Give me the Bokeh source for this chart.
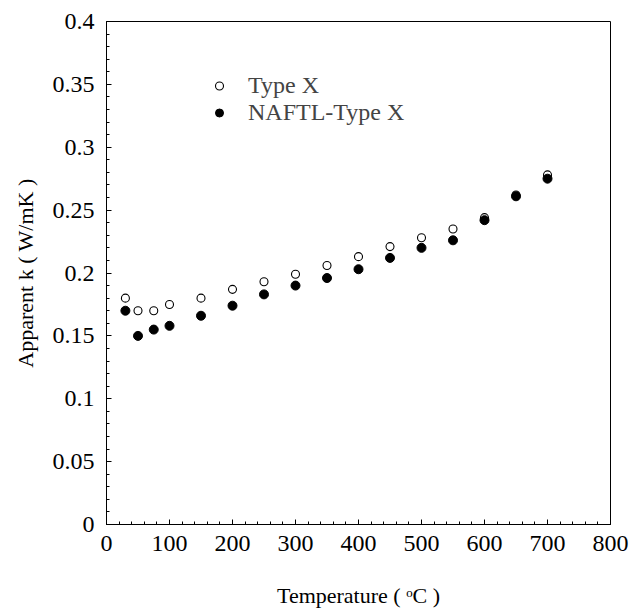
from bokeh.plotting import figure
from bokeh.models import Range1d, FixedTicker, Legend, LegendItem, CustomJSTickFormatter
from bokeh.embed import file_html
from bokeh.resources import INLINE

# ---- data ----
temperature = [30, 50, 75, 100, 150, 200, 250, 300, 350, 400, 450, 500, 550, 600, 650, 700]
k_type_x = [0.180, 0.170, 0.170, 0.175, 0.180, 0.187, 0.193, 0.199, 0.206, 0.213,
            0.221, 0.228, 0.235, 0.244, 0.262, 0.278]
k_naftl_type_x = [0.170, 0.150, 0.155, 0.158, 0.166, 0.174, 0.183, 0.190, 0.196, 0.203,
                  0.212, 0.220, 0.226, 0.242, 0.261, 0.275]

x_ticks = [0, 100, 200, 300, 400, 500, 600, 700, 800]
x_tick_labels = ["0", "100", "200", "300", "400", "500", "600", "700", "800"]
y_ticks = [0, 0.05, 0.1, 0.15, 0.2, 0.25, 0.3, 0.35, 0.4]
y_tick_labels = ["0", "0.05", "0.1", "0.15", "0.2", "0.25", "0.3", "0.35", "0.4"]

series_names = ["Type X", "NAFTL-Type X"]
x_title = "Temperature ( \u1d52C )"
y_title = "Apparent k ( W/mK )"

FONT = "Liberation Serif"
TICK_FONT = "Liberation Serif, serif"

LABEL_JS = """
const i = tick_vals.findIndex(t => Math.abs(t - tick) < 1e-9);
return i >= 0 ? tick_labels[i] : '';
"""

p = figure(width=630, height=613, output_backend="svg", toolbar_location=None,
           x_range=Range1d(0, 800), y_range=Range1d(0, 0.4),
           min_border_left=106, min_border_right=20, min_border_top=21, min_border_bottom=89)
p.background_fill_color = "white"
p.border_fill_color = "white"
p.outline_line_color = "black"
p.outline_line_width = 1
p.xgrid.visible = False
p.ygrid.visible = False

p.xaxis.ticker = FixedTicker(ticks=x_ticks, minor_ticks=[i * 20 for i in range(41)])
p.yaxis.ticker = FixedTicker(ticks=y_ticks, minor_ticks=[i * 0.01 for i in range(41)])
p.xaxis.formatter = CustomJSTickFormatter(args=dict(tick_vals=x_ticks, tick_labels=x_tick_labels), code=LABEL_JS)
p.yaxis.formatter = CustomJSTickFormatter(args=dict(tick_vals=y_ticks, tick_labels=y_tick_labels), code=LABEL_JS)

p.axis.axis_line_color = "black"
p.axis.major_tick_line_color = "black"
p.axis.minor_tick_line_color = "black"
p.axis.major_tick_in = 5
p.axis.major_tick_out = 0
p.axis.minor_tick_in = 3
p.axis.minor_tick_out = 0
p.axis.major_label_text_font = TICK_FONT
p.axis.major_label_text_font_size = "24px"
p.axis.major_label_text_font_style = "normal"
p.axis.major_label_text_color = "black"
p.axis.axis_label_text_font = FONT
p.axis.axis_label_text_font_size = "22px"
p.axis.axis_label_text_font_style = "normal"
p.axis.axis_label_text_color = "black"

p.xaxis.axis_label = x_title
p.yaxis.axis_label = y_title
p.xaxis.major_label_standoff = 11
p.yaxis.major_label_standoff = 12
p.xaxis.axis_label_standoff = 29
p.yaxis.axis_label_standoff = 12

r_open = p.scatter(temperature, k_type_x, marker="circle", size=8,
                   fill_color="white", line_color="black", line_width=1.1)
r_fill = p.scatter(temperature, k_naftl_type_x, marker="circle", size=9,
                   fill_color="black", line_color="black", line_width=1)

legend = Legend(items=[LegendItem(label=series_names[0], renderers=[r_open]),
                       LegendItem(label=series_names[1], renderers=[r_fill])],
                location=(103, 398), padding=0, margin=0, spacing=0,
                glyph_width=20, glyph_height=25, label_height=25, label_standoff=19,
                label_text_font=FONT, label_text_font_size="24px",
                border_line_color=None, background_fill_alpha=0)
p.add_layout(legend, "center")

open("out.html", "w").write(file_html(p, INLINE))
